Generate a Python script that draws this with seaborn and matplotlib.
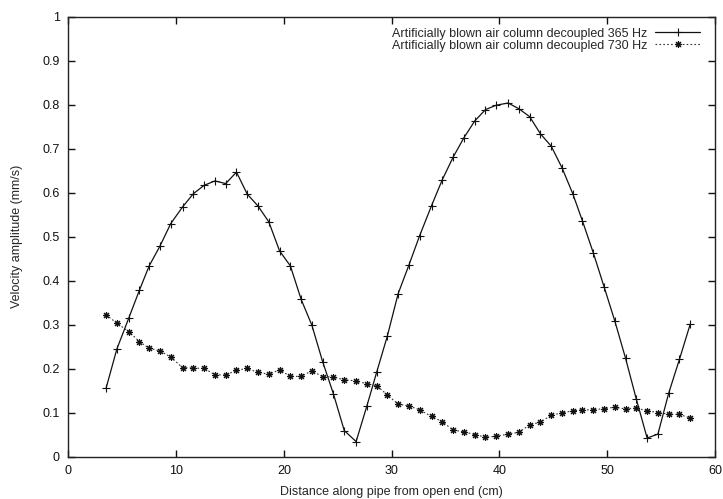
import seaborn as sns
import matplotlib.pyplot as plt
import pandas as pd

# Distance along pipe (cm), shared by both runs
distance = [3.5, 4.5, 5.6, 6.6, 7.5, 8.5, 9.5, 10.6, 11.6, 12.6, 13.6, 14.6, 15.6, 16.6,
            17.6, 18.6, 19.6, 20.6, 21.6, 22.6, 23.6, 24.6, 25.6, 26.7, 27.7, 28.6, 29.6,
            30.6, 31.6, 32.6, 33.7, 34.7, 35.7, 36.7, 37.7, 38.7, 39.7, 40.8, 41.8, 42.8,
            43.8, 44.8, 45.8, 46.8, 47.7, 48.7, 49.7, 50.7, 51.7, 52.7, 53.7, 54.7, 55.7,
            56.7, 57.7]

vel_365 = [0.156, 0.245, 0.315, 0.379, 0.434, 0.479, 0.530, 0.568, 0.598, 0.617, 0.627,
           0.621, 0.647, 0.597, 0.570, 0.534, 0.468, 0.434, 0.358, 0.299, 0.216, 0.143,
           0.060, 0.035, 0.116, 0.192, 0.275, 0.371, 0.436, 0.503, 0.571, 0.630, 0.681,
           0.725, 0.763, 0.789, 0.799, 0.804, 0.791, 0.773, 0.734, 0.706, 0.657, 0.598,
           0.536, 0.464, 0.387, 0.309, 0.224, 0.131, 0.043, 0.052, 0.145, 0.222, 0.302]

vel_730 = [0.323, 0.304, 0.285, 0.262, 0.247, 0.241, 0.227, 0.203, 0.202, 0.201, 0.187,
           0.186, 0.197, 0.201, 0.192, 0.188, 0.198, 0.183, 0.183, 0.196, 0.182, 0.182,
           0.175, 0.173, 0.166, 0.162, 0.141, 0.120, 0.116, 0.107, 0.092, 0.080, 0.061,
           0.057, 0.051, 0.045, 0.047, 0.052, 0.056, 0.073, 0.079, 0.095, 0.100, 0.105,
           0.107, 0.107, 0.110, 0.113, 0.109, 0.111, 0.105, 0.101, 0.097, 0.097, 0.088]

labels = ['Artificially blown air column decoupled 365 Hz',
          'Artificially blown air column decoupled 730 Hz']
xticks = [0, 10, 20, 30, 40, 50, 60]
yticks = [0, 0.1, 0.2, 0.3, 0.4, 0.5, 0.6, 0.7, 0.8, 0.9, 1]
ytick_labels = ['0', '0.1', '0.2', '0.3', '0.4', '0.5', '0.6', '0.7', '0.8', '0.9', '1']

df = pd.DataFrame({'distance': distance, 'v365': vel_365, 'v730': vel_730})

sns.set_style('ticks')
plt.rcParams['font.family'] = ['Liberation Sans', 'DejaVu Sans']

ink = '#111111'
fig = plt.figure(figsize=(7.23, 4.99), dpi=100)
ax = fig.add_axes([0.0945, 0.0842, 0.8945, 0.8823])

sns.lineplot(data=df, x='distance', y='v365', ax=ax, color=ink, linewidth=0.9,
             marker='+', markersize=5.5, markeredgewidth=0.8, markeredgecolor=ink,
             label=labels[0])
sns.lineplot(data=df, x='distance', y='v730', ax=ax, color='#333333', linewidth=0.8,
             linestyle=(0, (1.5, 2)), marker=(8, 2, 0), markersize=5,
             markeredgewidth=0.8, markeredgecolor=ink, label=labels[1])

ax.set_xlim(0, 60)
ax.set_ylim(0, 1)
ax.set_xticks(xticks)
ax.set_yticks(yticks)
ax.set_yticklabels(ytick_labels)
ax.tick_params(direction='in', length=5, width=1, top=True, right=True,
               labelsize=9, colors=ink, pad=6)
for s in ax.spines.values():
    s.set_linewidth(1.0)
    s.set_color('#222222')

ax.set_xlabel('Distance along pipe from open end (cm)', fontsize=9, labelpad=6)
ax.set_ylabel('Velocity amplitude (mm/s)', fontsize=9, labelpad=14)

ax.legend(loc='upper right', bbox_to_anchor=(1.0, 1.009), frameon=False,
          markerfirst=False, fontsize=9, handlelength=3.6, handletextpad=0.6,
          labelspacing=0.0, borderaxespad=0.8, numpoints=1)

plt.savefig('out.png', dpi=100)
